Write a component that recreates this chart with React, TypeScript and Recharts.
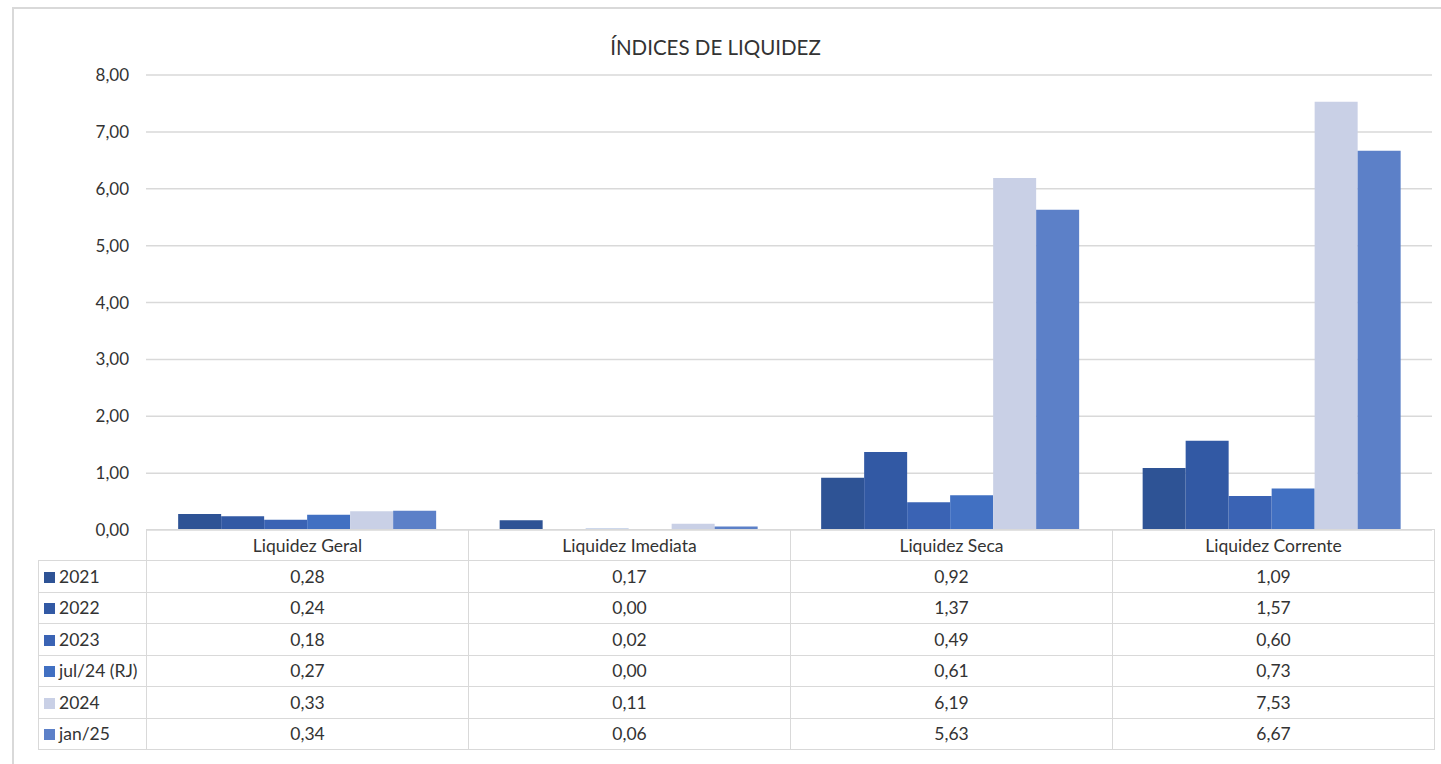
import { BarChart, Bar, CartesianGrid, XAxis, YAxis } from "recharts";

const categories = ["Liquidez Geral", "Liquidez Imediata", "Liquidez Seca", "Liquidez Corrente"];
const seriesNames = ["2021", "2022", "2023", "jul/24 (RJ)", "2024", "jan/25"];
const seriesColors = ["#2E5395", "#3259A4", "#3A63B4", "#4170C2", "#C9D0E6", "#5C80C8"];

const v2021 = [0.28, 0.17, 0.92, 1.09];
const v2022 = [0.24, 0.0, 1.37, 1.57];
const v2023 = [0.18, 0.02, 0.49, 0.6];
const vJul24 = [0.27, 0.0, 0.61, 0.73];
const v2024 = [0.33, 0.11, 6.19, 7.53];
const vJan25 = [0.34, 0.06, 5.63, 6.67];

const yTicks = [0, 1, 2, 3, 4, 5, 6, 7, 8];

const allSeries = [v2021, v2022, v2023, vJul24, v2024, vJan25];

const data = categories.map((name, i) => {
  const row: any = { name };
  seriesNames.forEach((s, k) => {
    row[s] = allSeries[k][i];
  });
  return row;
});

const fmt = (v: number) => v.toFixed(2).replace(".", ",");

const FONT = "Lato, 'Open Sans', sans-serif";
const BORDER = "1px solid #D9D9D9";

const App = () => {
  return (
    <div
      style={{
        position: "absolute",
        left: 0,
        top: 0,
        width: 1441,
        height: 764,
        background: "#fff",
        fontFamily: FONT,
      }}
    >
      <div
        style={{
          position: "absolute",
          left: 12,
          top: 7,
          width: 1440,
          height: 760,
          border: "2px solid #D9D9D9",
          boxSizing: "border-box",
        }}
      />
      <div
        style={{
          position: "absolute",
          left: 0,
          width: 1431,
          top: 35,
          textAlign: "center",
          fontSize: 20.5,
          color: "#333",
        }}
      >
        ÍNDICES DE LIQUIDEZ
      </div>
      <div style={{ position: "absolute", left: 0, top: 0 }}>
        <BarChart
          width={1441}
          height={540}
          data={data}
          margin={{ top: 75, right: 9, left: 0, bottom: 10 }}
          barGap={0}
          barCategoryGap="10%"
        >
          <CartesianGrid vertical={false} stroke="#D9D9D9" strokeWidth={1.5} />
          <XAxis dataKey="name" hide />
          <YAxis
            width={146}
            domain={[0, 8]}
            ticks={yTicks}
            axisLine={false}
            tickLine={false}
            tickFormatter={fmt}
            tick={{ fill: "#333", fontSize: 17, fontFamily: FONT, dx: -9 }}
          />
          {seriesNames.map((s, k) => (
            <Bar key={s} dataKey={s} fill={seriesColors[k]} isAnimationActive={false} />
          ))}
        </BarChart>
      </div>
      <table
        style={{
          position: "absolute",
          left: 38,
          top: 529,
          borderCollapse: "collapse",
          tableLayout: "fixed",
          fontSize: 17.5,
          color: "#333",
          fontFamily: FONT,
        }}
      >
        <colgroup>
          <col style={{ width: 108 }} />
          {categories.map((c) => (
            <col key={c} style={{ width: 322 }} />
          ))}
        </colgroup>
        <tbody>
          <tr style={{ height: 31 }}>
            <td style={{ borderRight: BORDER, borderTop: "none", borderLeft: "none" }} />
            {categories.map((c) => (
              <td key={c} style={{ border: BORDER, textAlign: "center", padding: 0 }}>
                {c}
              </td>
            ))}
          </tr>
          {seriesNames.map((s, k) => (
            <tr key={s} style={{ height: 31.5 }}>
              <td style={{ border: BORDER, padding: "0 0 0 5px", whiteSpace: "nowrap" }}>
                <span
                  style={{
                    display: "inline-block",
                    width: 11,
                    height: 11,
                    background: seriesColors[k],
                    marginRight: 4,
                  }}
                />
                {s}
              </td>
              {allSeries[k].map((v, i) => (
                <td key={i} style={{ border: BORDER, textAlign: "center", padding: 0 }}>
                  {fmt(v)}
                </td>
              ))}
            </tr>
          ))}
        </tbody>
      </table>
    </div>
  );
};

export default App;
